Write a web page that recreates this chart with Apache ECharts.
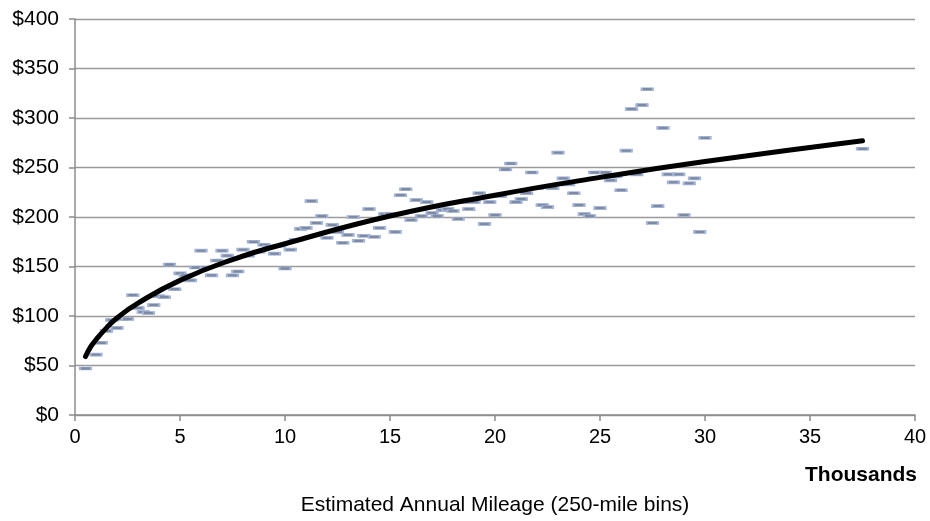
<!DOCTYPE html>
<html>
<head>
<meta charset="utf-8">
<script src="https://cdn.jsdelivr.net/npm/echarts@6/dist/echarts.min.js"></script>
<style>
  html, body { margin: 0; padding: 0; background: #fff; }
  #chart { width: 930px; height: 521px; }
</style>
</head>
<body>
<div id="chart"></div>
<script>
// bin position (thousands of miles) and average cost per bin
const mileage = [
  0.5, 1.0, 1.25, 1.5, 1.75, 2.0, 2.25, 2.5, 2.75, 3.0, 3.25, 3.5, 3.75, 4.0, 4.25, 4.5, 4.75, 5.0,
  5.25, 5.5, 5.75, 6.0, 6.25, 6.5, 6.75, 7.0, 7.25, 7.5, 7.75, 8.0, 8.25, 8.5, 8.75, 9.0, 9.25, 9.5, 9.75, 10.0,
  10.25, 10.5, 10.75, 11.0, 11.25, 11.5, 11.75, 12.0, 12.25, 12.5, 12.75, 13.0, 13.25, 13.5, 13.75, 14.0, 14.25, 14.5, 14.75, 15.0,
  15.25, 15.5, 15.75, 16.0, 16.25, 16.5, 16.75, 17.0, 17.25, 17.5, 17.75, 18.0, 18.25, 18.5, 18.75, 19.0, 19.25, 19.5, 19.75, 20.0,
  20.25, 20.5, 20.75, 21.0, 21.25, 21.5, 21.75, 22.0, 22.25, 22.5, 22.75, 23.0, 23.25, 23.5, 23.75, 24.0, 24.25, 24.5, 24.75, 25.0,
  25.25, 25.5, 25.75, 26.0, 26.25, 26.5, 26.75, 27.0, 27.25, 27.5, 27.75, 28.0, 28.25, 28.5, 28.75, 29.0, 29.25, 29.5, 29.75, 30.0,
  37.5
]
const cost = [
  47, 61, 73, 85, 96, 88, 97, 97, 121, 108, 104, 103, 111, 120, 119, 152, 127, 143,
  141, 136, 149, 166, 149, 141, 156, 166, 161, 141, 145, 167, 161, 175, 165, 172, 170, 163, 171, 148,
  167, 177, 188, 189, 216, 194, 201, 179, 192, 185, 174, 182, 200, 176, 181, 208, 180, 189, 203, 203,
  185, 222, 228, 197, 217, 201, 215, 204, 201, 207, 208, 206, 198, 215, 208, 215, 224, 193, 215, 202,
  221, 248, 254, 215, 218, 224, 245, 229, 212, 210, 229, 265, 239, 233, 224, 212, 203, 201, 245, 209,
  245, 237, 241, 227, 267, 309, 243, 313, 329, 194, 211, 290, 243, 235, 243, 202, 234, 239, 185, 280,
  269
]

// fitted trend curve
const trendX = [0.5, 0.75, 1, 1.5, 2, 3, 5, 7.5, 10, 15, 20, 25, 30, 37.5]
const trendY = [59, 69, 76, 88, 98, 113, 136, 157, 173, 201, 222, 240, 256, 277]

const yTicks = [0, 50, 100, 150, 200, 250, 300, 350, 400]

const chart = echarts.init(document.getElementById('chart'))
const font = 'Liberation Sans, Arial, Helvetica, sans-serif'

chart.setOption({
  animation: false,
  textStyle: { fontFamily: font },
  grid: { left: 75, right: 15, top: 19, bottom: 104 },
  xAxis: {
    type: 'value',
    min: 0,
    max: 40,
    interval: 5,
    name: 'Estimated Annual Mileage (250-mile bins)',
    nameLocation: 'middle',
    nameGap: 80,
    nameTextStyle: { fontSize: 21, color: '#000', fontFamily: font },
    axisLine: { show: true, lineStyle: { color: '#8c8c8c', width: 1.5 } },
    axisTick: { show: true, inside: false, length: 6, lineStyle: { color: '#8c8c8c', width: 1.5 } },
    axisLabel: { fontSize: 20, color: '#000', margin: 12, fontFamily: font },
    splitLine: { show: false }
  },
  yAxis: {
    type: 'value',
    min: yTicks[0],
    max: yTicks[yTicks.length - 1],
    interval: 50,
    axisLine: { show: true, lineStyle: { color: '#8c8c8c', width: 1.5 } },
    axisTick: { show: true, inside: false, length: 6, lineStyle: { color: '#8c8c8c', width: 1.5 } },
    axisLabel: { fontSize: 21, color: '#000', margin: 16, fontFamily: font, formatter: v => '$' + v },
    splitLine: { show: true, lineStyle: { color: '#9a9a9a', width: 1.3 } }
  },
  graphic: [{
    type: 'text',
    right: 13,
    top: 465,
    style: { text: 'Thousands', font: 'bold 21px ' + font, fill: '#000' }
  }],
  series: [
    {
      type: 'scatter',
      symbol: 'rect',
      symbolSize: [11, 3],
      itemStyle: { color: '#7d8aa2', borderColor: '#a2b4d9', borderWidth: 1.2, opacity: 1 },
      data: mileage.map((m, i) => [m, cost[i]]),
      z: 2
    },
    {
      type: 'line',
      smooth: true,
      showSymbol: false,
      lineStyle: { color: '#000', width: 5, cap: 'round' },
      data: trendX.map((x, i) => [x, trendY[i]]),
      z: 3
    }
  ]
})
</script>
</body>
</html>
